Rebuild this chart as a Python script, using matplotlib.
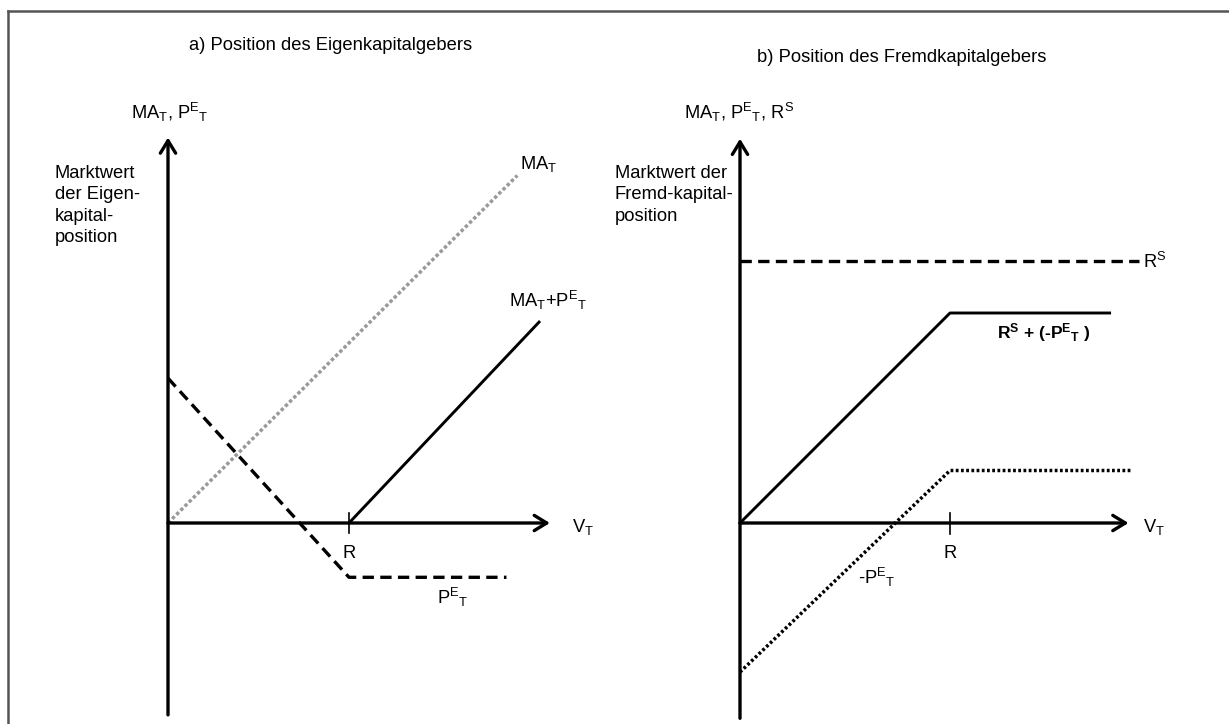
import matplotlib
matplotlib.use("Agg")
import matplotlib.pyplot as plt
from matplotlib.lines import Line2D

plt.rcParams["font.family"] = ["Liberation Sans", "DejaVu Sans"]
plt.rcParams["mathtext.fontset"] = "custom"
plt.rcParams["mathtext.rm"] = "Liberation Sans"
plt.rcParams["mathtext.it"] = "Liberation Sans"
plt.rcParams["mathtext.bf"] = "Liberation Sans:bold"

W, H = 1229, 724

# --- panel a) Eigenkapitalgeber (x in units of R) ---
ma_x = [0.0, 1.93]
ma_y = [0.0, 1.92]
map_x = [1.0, 2.05]
map_y = [0.0, 1.11]
put_x = [0.0, 1.0, 1.87]
put_y = [0.80, -0.30, -0.30]

# --- panel b) Fremdkapitalgeber ---
rs_x = [0.0, 1.90]
rs_y = [1.25, 1.25]
debt_x = [0.0, 1.0, 1.76]
debt_y = [0.0, 1.0, 1.0]
negput_x = [0.0, 1.0, 1.86]
negput_y = [-0.71, 0.25, 0.25]

fig = plt.figure(figsize=(W / 100, H / 100), dpi=100)
fig.patch.set_facecolor("white")


def panel(px0, px1, ox, oy, scale):
    ax = fig.add_axes([px0 / W, 0, (px1 - px0) / W, 1])
    ax.set_xlim((px0 - ox) / scale, (px1 - ox) / scale)
    ax.set_ylim((oy - H) / scale, oy / scale)
    ax.axis("off")
    return ax


def axis_arrow(ax, start, end):
    ax.annotate("", xy=end, xytext=start,
                arrowprops=dict(arrowstyle="->,head_length=0.9,head_width=0.55",
                                lw=2.4, color="black", shrinkA=0, shrinkB=0,
                                mutation_scale=10))


def ftext(x, y, s, **kw):
    kw.setdefault("fontsize", 13.2)
    fig.text(x / W, 1 - y / H, s, **kw)


# left panel
axl = panel(0, 614, 168, 523, 181)
axis_arrow(axl, (0, -1.06), (0, 2.13))
axis_arrow(axl, (0, 0), (2.11, 0))
axl.plot([1, 1], [-0.058, 0.058], color="black", lw=1.2)
axl.plot(ma_x, ma_y, color="#9a9a9a", lw=2.5, linestyle=(0, (1, 0.7)))
axl.plot(map_x, map_y, color="black", lw=2.1)
axl.plot(put_x, put_y, color="black", lw=2.4, linestyle=(0, (3.4, 1.9)))

# right panel
axr = panel(614, 1229, 740, 523, 210)
axis_arrow(axr, (0, -0.93), (0, 1.83))
axis_arrow(axr, (0, 0), (1.85, 0))
axr.plot([1, 1], [-0.05, 0.05], color="black", lw=1.2)
axr.plot(rs_x, rs_y, color="black", lw=2.4, linestyle=(0, (3.4, 1.9)))
axr.plot(debt_x, debt_y, color="black", lw=2.1)
axr.plot(negput_x, negput_y, color="black", lw=2.5, linestyle=(0, (0.8, 0.7)))

# frame
fig.add_artist(Line2D([8 / W, 1], [1 - 11 / H, 1 - 11 / H], color="#555555", lw=1.8))
fig.add_artist(Line2D([8 / W, 8 / W], [1 - 11 / H, 0], color="#555555", lw=1.8))

PE = r"$\mathregular{P^E{}_T}$"
MA = r"$\mathregular{MA_T}$"
RS = r"$\mathregular{R^S}$"

ftext(331, 46, "a) Position des Eigenkapitalgebers", ha="center", va="center")
ftext(902, 58, "b) Position des Fremdkapitalgebers", ha="center", va="center")

ftext(131, 112, MA + ", " + PE, ha="left", va="center")
ftext(684, 112, MA + ", " + PE + ", " + RS, ha="left", va="center")

ftext(55, 165, "Marktwert\nder Eigen-\nkapital-\nposition", ha="left", va="top",
      linespacing=1.33)
ftext(615, 165, "Marktwert der\nFremd-kapital-\nposition", ha="left", va="top",
      linespacing=1.33)

ftext(520, 164, MA, ha="left", va="center")
ftext(509, 300, MA + "+" + PE, ha="left", va="center")
ftext(437, 597, PE, ha="left", va="center")
ftext(349, 553, "R", ha="center", va="center")
ftext(572, 527, r"$\mathregular{V_T}$", ha="left", va="center")

ftext(950, 553, "R", ha="center", va="center")
ftext(1143, 527, r"$\mathregular{V_T}$", ha="left", va="center")
ftext(1143, 262, RS, ha="left", va="center")
ftext(997, 333, RS + " + (-" + PE + " )", ha="left", va="center",
      fontweight="bold", fontsize=12.6)
ftext(858, 577, "-" + PE, ha="left", va="center")

fig.savefig("out.png", dpi=100)
